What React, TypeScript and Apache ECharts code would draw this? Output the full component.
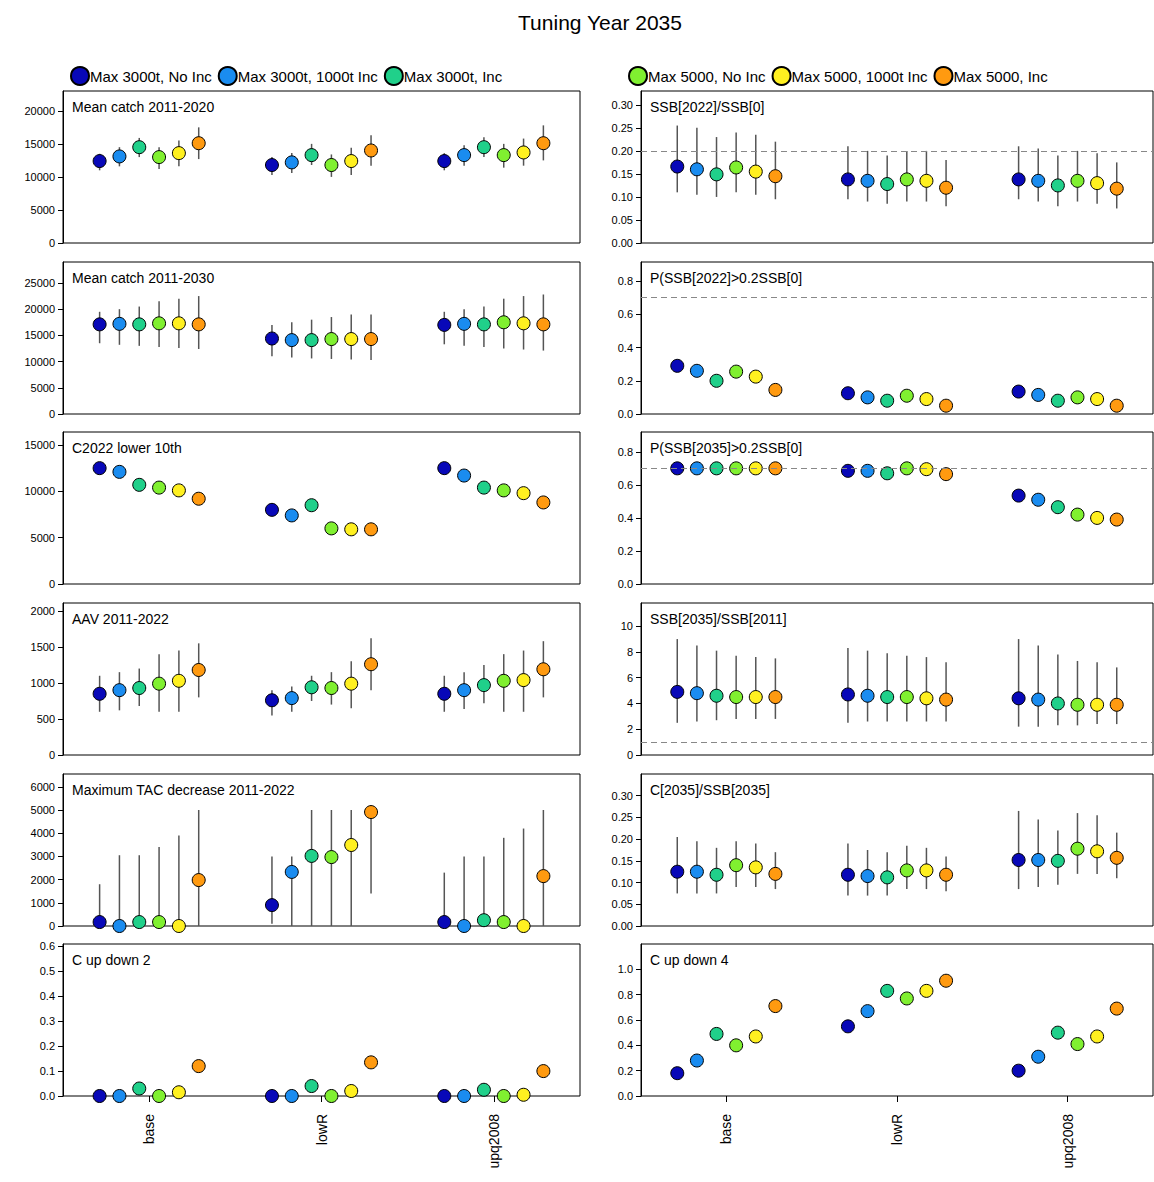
import * as echarts from "echarts";
import { useEffect, useRef } from "react";

const groups = ["base", "lowR", "upq2008"];
const seriesNames = [
  "Max 3000t, No Inc",
  "Max 3000t, 1000t Inc",
  "Max 3000t, Inc",
  "Max 5000, No Inc",
  "Max 5000, 1000t Inc",
  "Max 5000, Inc",
];
const colors = ["#0808b8", "#1a8cf0", "#20d08a", "#80f030", "#fff020", "#ff9a10"];

// left column
const catch20Med = [12400, 13100, 14500, 13000, 13600, 15100, 11800, 12200, 13300, 11800, 12400, 14000, 12400, 13300, 14500, 13300, 13700, 15100];
const catch20Lo = [11000, 11600, 13000, 11200, 11600, 12700, 10300, 10600, 11800, 10000, 10300, 11700, 11000, 11700, 13000, 11400, 11700, 12500];
const catch20Hi = [13500, 14500, 15900, 14500, 15500, 17500, 13000, 13600, 15000, 13400, 14400, 16300, 13600, 14800, 16000, 15000, 15800, 17800];
const catch30Med = [17100, 17200, 17100, 17300, 17300, 17100, 14400, 14100, 14100, 14300, 14300, 14300, 17000, 17200, 17100, 17500, 17300, 17100];
const catch30Lo = [13500, 13200, 13000, 12800, 12600, 12400, 11000, 10800, 10600, 10500, 10400, 10300, 13300, 13000, 12800, 12500, 12300, 12100];
const catch30Hi = [19500, 20000, 20500, 21500, 22000, 22500, 17000, 17500, 18000, 18500, 19000, 19000, 19500, 20000, 20500, 22000, 22500, 22800];
const c2022Med = [12500, 12100, 10700, 10400, 10100, 9200, 8000, 7400, 8500, 6000, 5900, 5900, 12500, 11700, 10400, 10100, 9800, 8800];
const aavMed = [850, 900, 930, 990, 1030, 1180, 760, 790, 940, 930, 990, 1260, 850, 900, 970, 1030, 1040, 1190];
const aavLo = [600, 620, 680, 600, 600, 800, 550, 600, 750, 700, 650, 900, 600, 640, 720, 600, 600, 800];
const aavHi = [1100, 1150, 1200, 1400, 1450, 1550, 900, 950, 1100, 1150, 1300, 1620, 1100, 1150, 1250, 1400, 1450, 1580];
const tacMed = [170, 0, 170, 170, 0, 1980, 900, 2330, 3020, 2970, 3490, 4910, 170, 0, 250, 170, 0, 2150];
const tacLo = [0, 0, 0, 0, 0, 0, 100, 0, 0, 0, 0, 1400, 0, 0, 0, 0, 0, 0];
const tacHi = [1800, 3050, 3050, 3400, 3900, 5000, 3000, 3000, 5000, 5000, 5000, 5000, 2300, 3000, 3000, 3800, 4200, 5000];
const cud2Med = [0, 0, 0.03, 0, 0.015, 0.12, 0, 0, 0.04, 0, 0.02, 0.135, 0, 0, 0.025, 0, 0.005, 0.1];

// right column
const ssb22Med = [0.166, 0.16, 0.149, 0.164, 0.155, 0.145, 0.138, 0.135, 0.128, 0.138, 0.135, 0.12, 0.138, 0.135, 0.125, 0.135, 0.13, 0.118];
const ssb22Lo = [0.11, 0.105, 0.1, 0.11, 0.105, 0.095, 0.095, 0.09, 0.085, 0.09, 0.09, 0.08, 0.095, 0.09, 0.08, 0.09, 0.085, 0.075];
const ssb22Hi = [0.255, 0.25, 0.23, 0.24, 0.235, 0.22, 0.21, 0.2, 0.19, 0.2, 0.2, 0.18, 0.21, 0.205, 0.19, 0.2, 0.195, 0.175];
const p22Med = [0.29, 0.26, 0.2, 0.255, 0.225, 0.145, 0.125, 0.1, 0.08, 0.11, 0.09, 0.05, 0.135, 0.115, 0.08, 0.1, 0.09, 0.05];
const p35Med = [0.7, 0.7, 0.7, 0.7, 0.7, 0.7, 0.685, 0.685, 0.67, 0.7, 0.695, 0.665, 0.535, 0.51, 0.465, 0.42, 0.4, 0.39];
const ssb35Med = [4.9, 4.8, 4.6, 4.5, 4.5, 4.5, 4.7, 4.6, 4.5, 4.5, 4.4, 4.3, 4.4, 4.3, 4.0, 3.9, 3.9, 3.9];
const ssb35Lo = [2.5, 2.6, 2.7, 2.8, 2.8, 2.8, 2.5, 2.6, 2.6, 2.6, 2.6, 2.6, 2.2, 2.2, 2.3, 2.3, 2.4, 2.4];
const ssb35Hi = [9, 8.5, 8.1, 7.7, 7.6, 7.5, 8.3, 8.1, 7.9, 7.7, 7.6, 7.2, 9, 8.5, 7.8, 7.3, 7.2, 6.8];
const cssbMed = [0.125, 0.125, 0.118, 0.14, 0.135, 0.12, 0.118, 0.115, 0.112, 0.128, 0.128, 0.118, 0.152, 0.152, 0.15, 0.178, 0.172, 0.157];
const cssbLo = [0.075, 0.075, 0.075, 0.09, 0.09, 0.085, 0.07, 0.07, 0.07, 0.085, 0.085, 0.08, 0.085, 0.09, 0.095, 0.12, 0.12, 0.11];
const cssbHi = [0.205, 0.195, 0.18, 0.195, 0.19, 0.17, 0.19, 0.175, 0.17, 0.185, 0.18, 0.16, 0.265, 0.245, 0.22, 0.26, 0.255, 0.215];
const cud4Med = [0.18, 0.28, 0.49, 0.4, 0.47, 0.71, 0.55, 0.67, 0.83, 0.77, 0.83, 0.91, 0.2, 0.31, 0.5, 0.41, 0.47, 0.69];

type Panel = {
  title: string;
  med: number[];
  lo?: number[];
  hi?: number[];
  max: number;
  interval: number;
  dec: number;
  ref?: number;
};

const panels: Panel[] = [
  { title: "Mean catch 2011-2020", med: catch20Med, lo: catch20Lo, hi: catch20Hi, max: 23000, interval: 5000, dec: 0 },
  { title: "SSB[2022]/SSB[0]", med: ssb22Med, lo: ssb22Lo, hi: ssb22Hi, max: 0.33, interval: 0.05, dec: 2, ref: 0.2 },
  { title: "Mean catch 2011-2030", med: catch30Med, lo: catch30Lo, hi: catch30Hi, max: 29000, interval: 5000, dec: 0 },
  { title: "P(SSB[2022]>0.2SSB[0]", med: p22Med, max: 0.915, interval: 0.2, dec: 1, ref: 0.7 },
  { title: "C2022 lower 10th", med: c2022Med, max: 16400, interval: 5000, dec: 0 },
  { title: "P(SSB[2035]>0.2SSB[0]", med: p35Med, max: 0.92, interval: 0.2, dec: 1, ref: 0.7 },
  { title: "AAV 2011-2022", med: aavMed, lo: aavLo, hi: aavHi, max: 2110, interval: 500, dec: 0 },
  { title: "SSB[2035]/SSB[2011]", med: ssb35Med, lo: ssb35Lo, hi: ssb35Hi, max: 11.8, interval: 2, dec: 0, ref: 1 },
  { title: "Maximum TAC decrease 2011-2022", med: tacMed, lo: tacLo, hi: tacHi, max: 6550, interval: 1000, dec: 0 },
  { title: "C[2035]/SSB[2035]", med: cssbMed, lo: cssbLo, hi: cssbHi, max: 0.35, interval: 0.05, dec: 2 },
  { title: "C up down 2", med: cud2Med, max: 0.61, interval: 0.1, dec: 1 },
  { title: "C up down 4", med: cud4Med, max: 1.2, interval: 0.2, dec: 1 },
];

const tops = [91, 262, 432, 603, 774, 944];
const xPos = (k: number) => Math.floor(k / 6) + 1 + ((k % 6) - 2.5) * 0.115;

export default function App() {
  const ref = useRef<HTMLDivElement>(null);

  useEffect(() => {
    document.body.style.margin = "0";
    if (!ref.current) return;
    const chart = echarts.init(ref.current, null, { renderer: "svg" });
    const font = "Liberation Sans";

    const grids: any[] = [];
    const xAxes: any[] = [];
    const yAxes: any[] = [];
    const titles: any[] = [{ text: "Tuning Year 2035", left: 595, top: 7, textAlign: "center", textStyle: { fontSize: 21, fontWeight: "normal", color: "#000", fontFamily: font } }];
    const series: any[] = [];

    panels.forEach((p, i) => {
      const col = i % 2;
      const row = Math.floor(i / 2);
      const left = col === 0 ? 63 : 641;
      const width = col === 0 ? 517 : 512;
      const top = tops[row];
      const bottomRow = row === 5;
      grids.push({ left, top, width, height: 152, show: true, borderColor: "#000", borderWidth: 1, backgroundColor: "transparent" });
      xAxes.push({
        gridIndex: i,
        type: "value",
        min: 0.5,
        max: 3.5,
        axisLine: { show: false },
        splitLine: { show: false },
        axisTick: { show: bottomRow, customValues: [1, 2, 3], length: 6, lineStyle: { color: "#000" } },
        axisLabel: {
          show: bottomRow,
          customValues: [1, 2, 3],
          rotate: 90,
          margin: 18,
          fontSize: 14,
          color: "#000",
          fontFamily: font,
          formatter: (v: number) => groups[Math.round(v) - 1] ?? "",
        },
      });
      yAxes.push({
        gridIndex: i,
        type: "value",
        min: 0,
        max: p.max,
        interval: p.interval,
        axisLine: { show: true, lineStyle: { color: "#000" } },
        splitLine: { show: false },
        axisTick: { show: true, length: 5, lineStyle: { color: "#000" } },
        axisLabel: {
          fontSize: 11,
          color: "#000",
          fontFamily: font,
          showMaxLabel: false,
          formatter: (v: number) => v.toFixed(p.dec),
        },
      });
      titles.push({ text: p.title, left: left + 4, top: top + 4, textStyle: { fontSize: 14, fontWeight: "normal", color: "#000", fontFamily: font } });

      if (p.lo && p.hi) {
        const lo = p.lo;
        const hi = p.hi;
        series.push({
          type: "custom",
          xAxisIndex: i,
          yAxisIndex: i,
          data: p.med.map((_, k) => [xPos(k), lo[k], hi[k]]),
          renderItem: (_params: any, api: any) => {
            const a = api.coord([api.value(0), api.value(1)]);
            const b = api.coord([api.value(0), api.value(2)]);
            return { type: "line", shape: { x1: a[0], y1: a[1], x2: b[0], y2: b[1] }, style: { stroke: "#555", lineWidth: 1.5 } };
          },
          silent: true,
        });
      }
      seriesNames.forEach((name, s) => {
        const data = groups.map((_, g) => [xPos(g * 6 + s), p.med[g * 6 + s]]);
        const ser: any = {
          type: "scatter",
          name,
          xAxisIndex: i,
          yAxisIndex: i,
          data,
          symbolSize: 13,
          itemStyle: { color: colors[s], borderColor: "#000", borderWidth: 1, opacity: 1 },
          z: 3,
        };
        if (s === 0 && p.ref !== undefined) {
          ser.markLine = {
            silent: true,
            symbol: "none",
            label: { show: false },
            lineStyle: { color: "#888", type: [6, 4], width: 1.2 },
            data: [{ yAxis: p.ref }],
          };
        }
        series.push(ser);
      });
    });

    const legendBase = {
      orient: "horizontal",
      icon: "circle",
      itemWidth: 18,
      itemHeight: 18,
      itemGap: 6,
      top: 66,
      padding: 0,
      textStyle: { fontSize: 15, color: "#000", fontFamily: font, padding: [0, 0, 0, -4] },
    };

    chart.setOption({
      animation: false,
      backgroundColor: "#fff",
      title: titles,
      legend: [
        { ...legendBase, left: 70, data: seriesNames.slice(0, 3) },
        { ...legendBase, left: 628, data: seriesNames.slice(3) },
      ],
      grid: grids,
      xAxis: xAxes,
      yAxis: yAxes,
      series,
    });

    return () => chart.dispose();
  }, []);

  return <div ref={ref} style={{ width: 1154, height: 1182 }} />;
}
